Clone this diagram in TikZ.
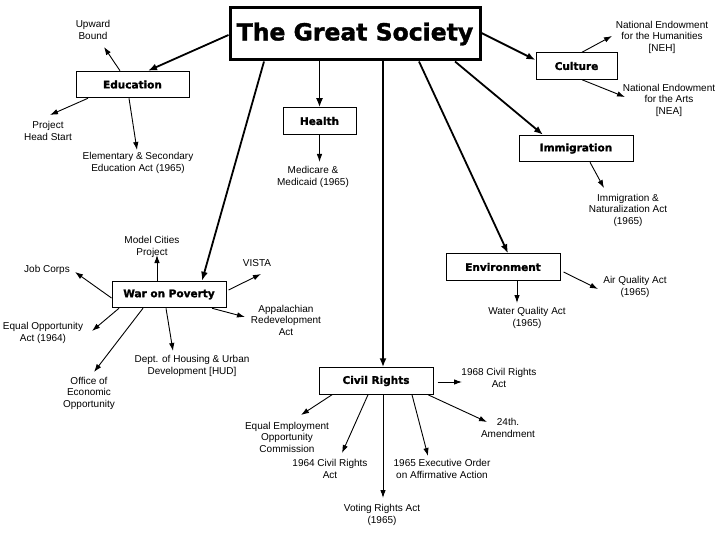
\documentclass[tikz,border=0pt]{standalone}
\usepackage{fontspec}
\setmainfont{Liberation Sans}
\newfontfamily\boxfont{DejaVu Sans Bold}[FakeBold=1.6]
\usetikzlibrary{arrows.meta}
\begin{document}
\begin{tikzpicture}[x=1pt,y=-1pt,
  lbl/.style={align=center,inner sep=0pt,font=\fontsize{10}{11.5}\selectfont},
  topic/.style={draw,line width=1pt,minimum width=#1,minimum height=26.5pt,inner sep=0pt,
    font=\boxfont\fontsize{10.5}{12}\selectfont},
  mainarr/.style={line width=1.8pt,-{Latex[length=9pt,width=7pt]}},
  arr/.style={line width=0.9pt,-{Latex[length=8pt,width=5.5pt]}}]
\useasboundingbox (0,0) rectangle (720,540);
% main title
\node[draw,line width=3pt,minimum width=250pt,minimum height=52pt,inner sep=0pt,
  font=\boxfont\fontsize{23.5}{27}\selectfont] (gs) at (355,34) {The Great Society};
% topic boxes
\node[topic=113pt] (edu) at (132.5,84.5) {Education};
\node[topic=73pt] (hea) at (319.5,121) {Health};
\node[topic=81pt] (cul) at (576.5,66) {Culture};
\node[topic=114pt] (imm) at (576,148.5) {Immigration};
\node[topic=114pt] (wop) at (169,294.5) {War on Poverty};
\node[topic=114pt] (env) at (503,267) {Environment};
\node[topic=114pt] (civ) at (376,381) {Civil Rights};
% labels
\node[lbl] (ub) at (93,30) {Upward\\Bound};
\node[lbl] (phs) at (48,131) {Project\\Head Start};
\node[lbl] (esea) at (138,163) {Elementary \& Secondary\\Education Act (1965)};
\node[lbl] (med) at (313,177) {Medicare \&\\Medicaid (1965)};
\node[lbl] (neh) at (662,37) {National Endowment\\for the Humanities\\{[}NEH{]}};
\node[lbl] (nea) at (669,100) {National Endowment\\for the Arts\\{[}NEA{]}};
\node[lbl] (ina) at (628,210) {Immigration \&\\Naturalization Act\\(1965)};
\node[lbl] (mcp) at (152,247) {Model Cities\\Project};
\node[lbl] (vis) at (257,263) {VISTA};
\node[lbl] (jc) at (47,270) {Job Corps};
\node[lbl] (eoa) at (43,333) {Equal Opportunity\\Act (1964)};
\node[lbl] (oeo) at (89,393) {Office of\\Economic\\Opportunity};
\node[lbl] (hud) at (192,366) {Dept. of Housing \& Urban\\Development {[}HUD{]}};
\node[lbl] (ara) at (286,320) {Appalachian\\Redevelopment\\Act};
\node[lbl] (aqa) at (635,287) {Air Quality Act\\(1965)};
\node[lbl] (wqa) at (527,318) {Water Quality Act\\(1965)};
\node[lbl] (cr68) at (499,378) {1968 Civil Rights\\Act};
\node[lbl] (am24) at (508,428) {24th.\\Amendment};
\node[lbl] (eo65) at (442,469) {1965 Executive Order\\on Affirmative Action};
\node[lbl] (vra) at (382,515) {Voting Rights Act\\(1965)};
\node[lbl] (cr64) at (330,469) {1964 Civil Rights\\Act};
\node[lbl] (eeoc) at (287,437) {Equal Employment\\Opportunity\\Commission};
% arrow tips
\coordinate (tUB) at (104,47);
\coordinate (tPHS) at (50,115);
\coordinate (tESEA) at (137,150);
\coordinate (tMED) at (319.5,162);
\coordinate (tNEH) at (612,36);
\coordinate (tNEA) at (625,97);
\coordinate (tINA) at (604,188);
\coordinate (tMCP) at (157,255);
\coordinate (tVIS) at (261,274);
\coordinate (tJC) at (75,272);
\coordinate (tEOA) at (92,331);
\coordinate (tOEO) at (94,372);
\coordinate (tHUD) at (173,351);
\coordinate (tARA) at (245,317);
\coordinate (tAQA) at (598,289);
\coordinate (tWQA) at (517,303);
\coordinate (tCR68) at (462,382);
\coordinate (tAM24) at (487,422);
\coordinate (tEO65) at (428,456);
\coordinate (tVRA) at (383,498);
\coordinate (tCR64) at (342,453);
\coordinate (tEEOC) at (301,415);
% main arrows
\draw[mainarr] ([yshift=-1pt]gs.west) -- ([xshift=15.5pt]edu.north);
\draw[mainarr] ([xshift=-91pt]gs.south) -- ([xshift=33pt]wop.north);
\draw[mainarr] (gs.south -| hea.north) -- (hea.north);
\draw[mainarr] ([xshift=28pt]gs.south) -- ([xshift=7pt]civ.north);
\draw[mainarr] ([xshift=64pt]gs.south) -- ([xshift=5pt]env.north);
\draw[mainarr] ([xshift=100pt]gs.south) -- ([xshift=-33pt]imm.north);
\draw[mainarr] ([yshift=1pt]gs.east) -- ([yshift=6pt]cul.west);
% sub arrows
\draw[arr] ([xshift=-12.5pt]edu.north) -- (tUB);
\draw[arr] ([xshift=-44.5pt]edu.south) -- (tPHS);
\draw[arr] ([xshift=-3.5pt]edu.south) -- (tESEA);
\draw[arr] (hea.south) -- (tMED);
\draw[arr] ([xshift=5.5pt]cul.north) -- (tNEH);
\draw[arr] ([xshift=5.5pt]cul.south) -- (tNEA);
\draw[arr] ([xshift=14pt]imm.south) -- (tINA);
\draw[arr] ([xshift=-12pt]wop.north) -- (tMCP);
\draw[arr] ([xshift=2pt,yshift=4.5pt]wop.east) -- (tVIS);
\draw[arr] ([yshift=-3.5pt]wop.west) -- (tJC);
\draw[arr] ([xshift=-50pt]wop.south) -- (tEOA);
\draw[arr] ([xshift=-26pt]wop.south) -- (tOEO);
\draw[arr] ([xshift=-3pt]wop.south) -- (tHUD);
\draw[arr] ([xshift=43pt]wop.south) -- (tARA);
\draw[arr] ([xshift=3pt,yshift=-5pt]env.east) -- (tAQA);
\draw[arr] ([xshift=14pt]env.south) -- (tWQA);
\draw[arr] ([xshift=4pt,yshift=-1pt]civ.east) -- (tCR68);
\draw[arr] ([xshift=52pt]civ.south) -- (tAM24);
\draw[arr] ([xshift=36pt]civ.south) -- (tEO65);
\draw[arr] ([xshift=7pt]civ.south) -- (tVRA);
\draw[arr] ([xshift=-8pt]civ.south) -- (tCR64);
\draw[arr] ([xshift=-44pt]civ.south) -- (tEEOC);
\end{tikzpicture}
\end{document}
